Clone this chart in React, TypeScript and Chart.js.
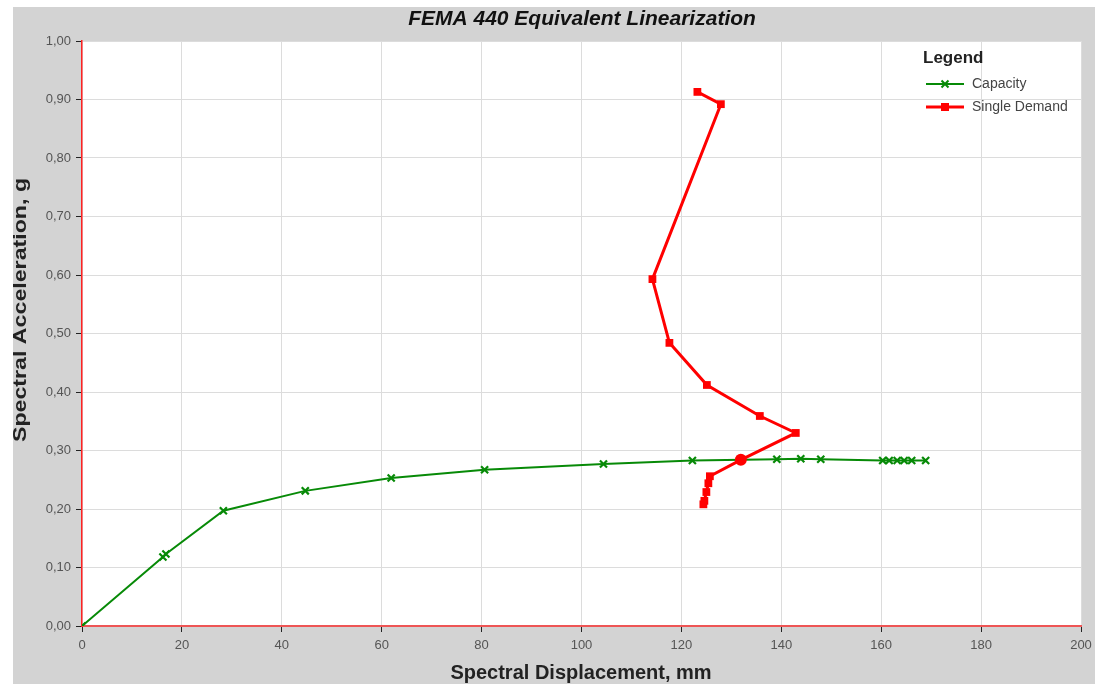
import React, { useEffect, useRef } from "react";
import { Chart, registerables } from "chart.js";

Chart.register(...registerables);

const chartTitle = "FEMA 440 Equivalent Linearization";
const xTitle = "Spectral Displacement, mm";
const yTitle = "Spectral Acceleration, g";
const legendTitle = "Legend";
const seriesNames = ["Capacity", "Single Demand"];

const capacityX = [0, 16.2, 16.8, 28.3, 44.7, 61.9, 80.6, 104.4, 122.2, 139.1, 143.9, 147.9, 160.3, 161.6, 163.2, 164.6, 166.1, 168.9];
const capacityY = [0, 0.118, 0.123, 0.197, 0.231, 0.253, 0.267, 0.277, 0.283, 0.285, 0.286, 0.285, 0.283, 0.283, 0.283, 0.283, 0.283, 0.283];

const demandX = [123.2, 127.9, 114.2, 117.6, 125.1, 135.7, 142.9, 131.9, 125.7, 125.4, 125.0, 124.6, 124.4];
const demandY = [0.913, 0.892, 0.593, 0.484, 0.412, 0.359, 0.330, 0.284, 0.256, 0.244, 0.229, 0.214, 0.208];
const performanceIndex = 7;

const xMin = 0, xMax = 200, xStep = 20;
const yMin = 0, yMax = 1, yStep = 0.1;

const FONT = "'Liberation Sans', Arial, sans-serif";
const GREEN = "#078a07";
const RED = "#ff0000";

const bgPlugin = {
  id: "plotBg",
  beforeDraw(chart: any) {
    const { ctx, chartArea: a } = chart;
    ctx.save();
    ctx.fillStyle = "#ffffff";
    ctx.fillRect(a.left, a.top, a.right - a.left, a.bottom - a.top);
    ctx.restore();
  },
};

const overlayPlugin = {
  id: "overlay",
  afterDraw(chart: any) {
    const ctx = chart.ctx;
    const area = chart.chartArea;
    ctx.save();
    ctx.fillStyle = "#111";
    ctx.font = `italic bold 21px ${FONT}`;
    ctx.textAlign = "center";
    ctx.textBaseline = "middle";
    ctx.fillText(chartTitle, 569, 12);

    // axis titles
    ctx.fillStyle = "#222";
    ctx.font = `bold 20px ${FONT}`;
    ctx.fillText(xTitle, 568, 666);
    ctx.save();
    ctx.translate(8, 303);
    ctx.rotate(-Math.PI / 2);
    ctx.scale(1.22, 1);
    ctx.font = `bold 19px ${FONT}`;
    ctx.fillText(yTitle, 0, 0);
    ctx.restore();

    // legend
    const lx = area.right - 155;
    ctx.textAlign = "left";
    ctx.font = `bold 17px ${FONT}`;
    ctx.fillStyle = "#222";
    ctx.fillText(legendTitle, lx - 3, 51);
    ctx.font = `14px ${FONT}`;
    const items = [
      { name: seriesNames[0], color: GREEN, style: "x" },
      { name: seriesNames[1], color: RED, style: "sq" },
    ];
    items.forEach((it, i) => {
      const y = 77 + i * 23;
      ctx.strokeStyle = it.color;
      ctx.lineWidth = it.style === "x" ? 2 : 3;
      ctx.beginPath();
      ctx.moveTo(lx, y);
      ctx.lineTo(lx + 38, y);
      ctx.stroke();
      const cx = lx + 19;
      if (it.style === "x") {
        ctx.lineWidth = 2;
        ctx.beginPath();
        ctx.moveTo(cx - 3.5, y - 3.5);
        ctx.lineTo(cx + 3.5, y + 3.5);
        ctx.moveTo(cx + 3.5, y - 3.5);
        ctx.lineTo(cx - 3.5, y + 3.5);
        ctx.stroke();
      } else {
        ctx.fillStyle = it.color;
        ctx.fillRect(cx - 4, y - 4, 8, 8);
      }
      ctx.fillStyle = "#444";
      ctx.fillText(it.name, lx + 46, y);
    });
    ctx.restore();
  },
};

export default function App() {
  const ref = useRef<HTMLCanvasElement | null>(null);
  useEffect(() => {
    if (!ref.current) return;
    const capData = capacityX.map((x, i) => ({ x, y: capacityY[i] }));
    const demData = demandX.map((x, i) => ({ x, y: demandY[i] }));
    const chart = new Chart(ref.current, {
      type: "line",
      data: {
        datasets: [
          {
            label: seriesNames[1],
            data: demData,
            borderColor: RED,
            backgroundColor: RED,
            borderWidth: 3,
            pointStyle: demData.map((_, i) => (i === performanceIndex ? "circle" : "rect")) as any,
            pointRadius: demData.map((_, i) => (i === performanceIndex ? 6 : 5.5)) as any,
            pointBorderWidth: 0,
            showLine: true,
            tension: 0,
          },
          {
            label: seriesNames[0],
            data: capData,
            borderColor: GREEN,
            backgroundColor: GREEN,
            borderWidth: 2,
            pointStyle: "crossRot",
            pointRadius: 5,
            pointBorderWidth: 2.2,
            showLine: true,
            tension: 0,
          },
        ],
      },
      options: {
        animation: false,
        responsive: false,
        maintainAspectRatio: false,
        layout: { padding: { top: 34, right: 14, left: 0, bottom: 0 } },
        plugins: {
          legend: { display: false },
          title: { display: false },
          tooltip: { enabled: false },
        },
        scales: {
          x: {
            type: "linear",
            min: xMin,
            max: xMax,
            afterFit: (s: any) => { s.height = 58; s.paddingRight = 0; s.paddingLeft = 0; },
            ticks: {
              stepSize: xStep,
              color: "#555",
              font: { family: FONT, size: 13 },
              padding: 6,
            },
            grid: { color: "#dcdcdc", tickColor: "#222", tickLength: 6, lineWidth: 1 },
            border: { color: "#ee5555", width: 2 },
          },
          y: {
            type: "linear",
            min: yMin,
            max: yMax,
            afterFit: (s: any) => { s.width = 69; s.paddingTop = 0; s.paddingBottom = 0; },
            ticks: {
              stepSize: yStep,
              color: "#555",
              font: { family: FONT, size: 13 },
              padding: 5,
              callback: (v: any) => Number(v).toFixed(2).replace(".", ","),
            },
            grid: { color: "#dcdcdc", tickColor: "#222", tickLength: 6, lineWidth: 1 },
            border: { color: "#ff2222", width: 1.5 },
          },
        },
      },
      plugins: [bgPlugin, overlayPlugin],
    } as any);
    return () => chart.destroy();
  }, []);
  return (
    <div style={{ position: "absolute", left: 13, top: 7, width: 1082, height: 677, background: "#d3d3d3" }}>
      <canvas ref={ref} width={1082} height={677} style={{ display: "block" }} />
    </div>
  );
}
